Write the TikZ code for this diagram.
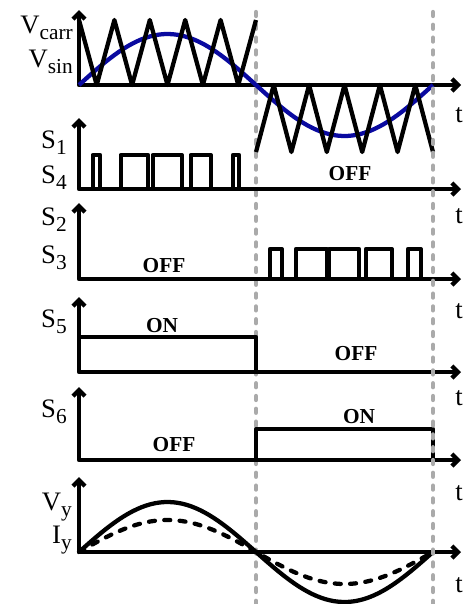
\documentclass[tikz,border=0pt]{standalone}
\usepackage{fontspec}
\setmainfont{Liberation Serif}
\usepackage{tikz}
\usetikzlibrary{arrows.meta}
\definecolor{sinblue}{RGB}{10,10,160}
\definecolor{guidegray}{RGB}{170,170,170}
\newcommand{\lowsub}[1]{\raisebox{-0.5ex}{\fontsize{16}{16}\selectfont #1}}

\begin{document}
\begin{tikzpicture}[x=0.75pt, y=-0.75pt,
      ax/.style={line width=3.2pt, line join=round,
                 {Straight Barb[length=4.5pt,width=9pt]}-{Straight Barb[length=4.5pt,width=9pt]}},
      wave/.style={line width=3.2pt, line join=round},
      sinus/.style={line width=3.2pt, sinblue},
      guide/.style={line width=3.2pt, guidegray, line cap=round, dash pattern=on 3pt off 6.6pt},
      lbl/.style={font=\fontsize{20}{22}\selectfont, anchor=base east, inner sep=0pt},
      tlbl/.style={font=\fontsize{20}{22}\selectfont, anchor=base west, inner sep=0pt},
      state/.style={font=\fontsize{16}{18}\selectfont\bfseries, anchor=base, inner sep=0pt}]
    \useasboundingbox (0,0) rectangle (462,604);

    % first half-cycle marker, under the waveforms
    \draw[guide] (256,12) -- (256,606);

    % axes
    \foreach \b/\tp in {85/10, 189/118, 279/203, 372/297, 460/387, 552/477}
      \draw[ax] (79,\tp) -- (79,\b) -- (461,\b);

    % reference sine and carrier
    \draw[sinus] plot[domain=0:354, samples=80] ({79+\x}, {85-51*sin(\x/354*360)});
    \draw[wave] (79,20) \foreach \i in {1,...,10} { -- ({79+17.7*\i}, {ifthenelse(mod(\i,2)==0,20,85)}) };
    \draw[wave] (256,152) \foreach \i in {1,...,10} { -- ({256+17.7*\i}, {ifthenelse(mod(\i,2)==0,152,85)}) };

    % S1, S4 pulses
    \foreach \a/\b in {92.7/100, 120.7/148, 152.7/181.7, 190.7/210.7, 233/239}
      \draw[wave] (\a,189) |- (\b,155) -- (\b,189);
    % S2, S3 pulses
    \foreach \a/\b in {270/281.7, 296/326.7, 329/359, 366/391.7, 408/420.7}
      \draw[wave] (\a,279) |- (\b,249) -- (\b,279);

    % S5 and S6
    \draw[wave] (79,337) -- (256,337) -- (256,372);
    \draw[wave] (256,460) -- (256,429) -- (433,429) -- (433,460);

    % output voltage and current
    \draw[wave] plot[domain=0:354, samples=80] ({79+\x}, {552-50*sin(\x/354*360)});
    \draw[wave, line cap=round, dash pattern=on 4.5pt off 7pt]
      plot[domain=0:354, samples=80] ({79+\x}, {552-32*sin(\x/354*360)});

    % second half-cycle marker
    \draw[guide] (433,12) -- (433,606);

    % labels
    \node[lbl] (vcarr) at (73,33) {V\lowsub{carr}};
    \node[lbl] (vsin) at (73,67) {V\lowsub{sin}};
    \node[lbl] (s1) at (67,148) {S\lowsub{1}};
    \node[lbl] (s4) at (67,183) {S\lowsub{4}};
    \node[lbl] (s2) at (67,225) {S\lowsub{2}};
    \node[lbl] (s3) at (67,263) {S\lowsub{3}};
    \node[lbl] (s5) at (67,327) {S\lowsub{5}};
    \node[lbl] (s6) at (67,417) {S\lowsub{6}};
    \node[lbl] (vy) at (72,510) {V\lowsub{y}};
    \node[lbl] (iy) at (72,543) {I\lowsub{y}};
    \foreach \y [count=\k] in {122, 223, 318, 405, 500, 592}
      \node[tlbl] (t\k) at (455,\y) {t};

    \node[state] (off1) at (350,180) {OFF};
    \node[state] (off2) at (164,272) {OFF};
    \node[state] (on3) at (162,332) {ON};
    \node[state] (off3) at (356,360) {OFF};
    \node[state] (on4) at (359,423) {ON};
    \node[state] (off4) at (174,451) {OFF};
  \end{tikzpicture}
\end{document}
